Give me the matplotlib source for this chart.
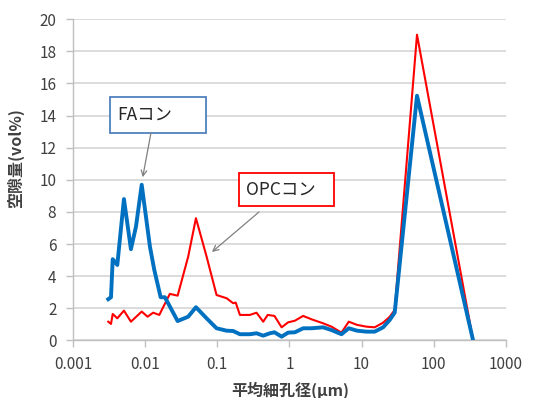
import matplotlib
matplotlib.use("Agg")
import matplotlib.pyplot as plt
from matplotlib.patches import Rectangle

plt.rcParams['font.family'] = ['Noto Sans CJK JP', 'DejaVu Sans']

# FA concrete (blue)
fa_x = [0.00308, 0.00336, 0.00355, 0.00411, 0.00508, 0.00635, 0.00746, 0.00896,
        0.01164, 0.01337, 0.0164, 0.0188, 0.0282, 0.0395, 0.0506, 0.0711, 0.0977,
        0.1346, 0.166, 0.206, 0.283, 0.350, 0.433, 0.536, 0.62, 0.78, 0.96, 1.19,
        1.55, 2.02, 2.93, 3.83, 5.27, 6.65, 8.67, 11.7, 15.2, 19.9, 24.6, 28.8,
        58.7, 352]
fa_y = [2.57, 2.69, 5.06, 4.70, 8.8, 5.68, 7.09, 9.69,
        5.85, 4.4, 2.69, 2.69, 1.21, 1.48, 2.07, 1.38, 0.76,
        0.61, 0.59, 0.39, 0.39, 0.45, 0.30, 0.45, 0.51, 0.24, 0.49, 0.51,
        0.76, 0.76, 0.82, 0.65, 0.39, 0.76, 0.61, 0.55, 0.55, 0.82, 1.28, 1.73,
        15.23, 0.0]

# OPC concrete (red)
opc_x = [0.00308, 0.00336, 0.00355, 0.00411, 0.00508, 0.00635, 0.00896, 0.0108,
         0.0129, 0.0157, 0.0220, 0.0282, 0.0395, 0.0506, 0.0711, 0.0977, 0.1346,
         0.166, 0.180, 0.206, 0.283, 0.350, 0.433, 0.50, 0.62, 0.78, 0.96, 1.19,
         1.55, 2.02, 2.93, 3.83, 5.27, 6.65, 8.67, 11.7, 15.2, 19.9, 24.6, 28.8,
         58.7, 352]
opc_y = [1.17, 1.03, 1.65, 1.38, 1.86, 1.17, 1.80, 1.48,
         1.73, 1.59, 2.9, 2.79, 5.22, 7.61, 5.22, 2.83, 2.63,
         2.32, 2.36, 1.59, 1.59, 1.73, 1.17, 1.59, 1.53, 0.82, 1.13, 1.23,
         1.53, 1.32, 1.07, 0.86, 0.49, 1.17, 0.97, 0.86, 0.82, 1.11, 1.48, 1.9,
         19.03, 0.0]

x_ticks = [0.001, 0.01, 0.1, 1, 10, 100, 1000]
x_ticklabels = ['0.001', '0.01', '0.1', '1', '10', '100', '1000']
y_ticks = [0, 2, 4, 6, 8, 10, 12, 14, 16, 18, 20]

xlabel = '平均細孔径(μm)'
ylabel = '空隙量(vol%)'
fa_label = 'FAコン'
opc_label = 'OPCコン'

fig = plt.figure(figsize=(5.33, 3.98), dpi=100)
ax = fig.add_axes([0.137, 0.1445, 0.812, 0.8075])

ax.set_xscale('log')
ax.set_xlim(1e-3, 1e3)
ax.set_ylim(0, 20)
ax.set_xticks(x_ticks)
ax.set_xticklabels(x_ticklabels)
ax.xaxis.set_minor_locator(matplotlib.ticker.NullLocator())
ax.set_yticks(y_ticks)

ax.grid(axis='y', color='#d9d9d9', lw=1.3)
ax.set_axisbelow(True)
for s in ['top', 'right']:
    ax.spines[s].set_visible(False)
for s in ['left', 'bottom']:
    ax.spines[s].set_color('#bfbfbf')
    ax.spines[s].set_linewidth(1.0)
ax.tick_params(axis='both', colors='#bfbfbf', labelcolor='#404040',
               labelsize=11, length=5, width=1.0)
ax.tick_params(axis='x', pad=6)
ax.tick_params(axis='y', pad=7)

ax.plot(opc_x, opc_y, color='#ff0000', lw=1.5, zorder=3)
ax.plot(fa_x, fa_y, color='#0070c0', lw=2.8, zorder=4)

ax.set_xlabel(xlabel, fontsize=11.5, fontweight='bold', color='#404040')
ax.set_ylabel(ylabel, fontsize=11.5, fontweight='bold', color='#404040')
ax.xaxis.set_label_coords(0.501, -0.128)
ax.yaxis.set_label_coords(-0.113, 0.568)

# Callout boxes
ax.add_patch(Rectangle((0.0855, 0.6454), 0.2217, 0.112, transform=ax.transAxes,
                       fill=True, facecolor='white', edgecolor='#4f81bd', lw=1.3,
                       clip_on=False, zorder=5))
ax.text(0.1016, 0.7013, fa_label, transform=ax.transAxes, fontsize=12.5,
        color='#262626', ha='left', va='center', zorder=6)
ax.annotate('', xy=(0.161, 0.508), xytext=(0.180, 0.6454),
            xycoords='axes fraction', textcoords='axes fraction',
            arrowprops=dict(arrowstyle='->', color='#808080', lw=0.9,
                            shrinkA=0, shrinkB=0), zorder=6)

ax.add_patch(Rectangle((0.3834, 0.4184), 0.2194, 0.1026, transform=ax.transAxes,
                       fill=True, facecolor='white', edgecolor='#ff0000', lw=1.3,
                       clip_on=False, zorder=5))
ax.text(0.3995, 0.468, opc_label, transform=ax.transAxes, fontsize=12.5,
        color='#262626', ha='left', va='center', zorder=6)
ax.annotate('', xy=(0.321, 0.2753), xytext=(0.4296, 0.3997),
            xycoords='axes fraction', textcoords='axes fraction',
            arrowprops=dict(arrowstyle='->', color='#808080', lw=0.9,
                            shrinkA=0, shrinkB=0), zorder=6)

fig.savefig('out.png', dpi=100)
